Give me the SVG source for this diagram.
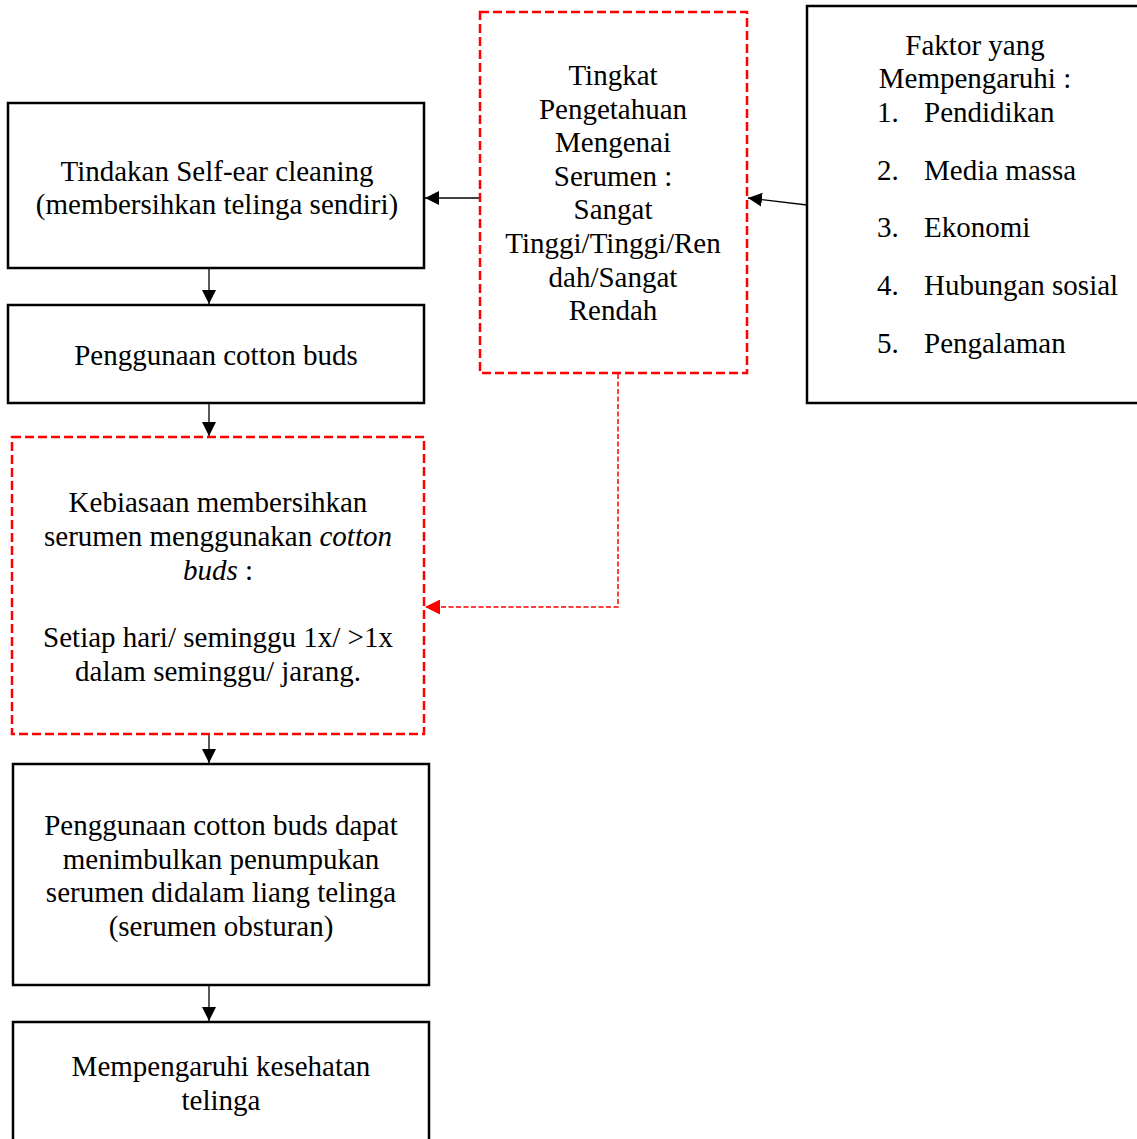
<svg xmlns="http://www.w3.org/2000/svg" width="1137" height="1139" viewBox="0 0 1137 1139">
<style>
.box{fill:#fff;stroke:#000;stroke-width:2.5}
.dbox{fill:#fff;stroke:#ff0000;stroke-width:2.5;stroke-dasharray:9 4}
.t{font-family:"Liberation Serif","Times New Roman",serif;font-size:29px;fill:#000}
.c{text-anchor:middle}
.con{stroke:#000;stroke-width:1.3;fill:none}
.rcon{stroke:#ff0000;stroke-width:1.5;fill:none;stroke-dasharray:5 2.5}
</style>
<defs>
<marker id="ab" viewBox="0 0 14 14" refX="14" refY="7" markerWidth="14" markerHeight="14" markerUnits="userSpaceOnUse" orient="auto"><path d="M0,0 L14,7 L0,14 z" fill="#000"/></marker>
<marker id="ar" viewBox="0 0 15 15" refX="15" refY="7.5" markerWidth="15" markerHeight="15" markerUnits="userSpaceOnUse" orient="auto"><path d="M0,0 L15,7.5 L0,15 z" fill="#ff0000"/></marker>
</defs>
<rect width="1137" height="1139" fill="#fff"/>

<g id="connectors">
<line class="con" x1="209" y1="268" x2="209" y2="304" marker-end="url(#ab)"/>
<line class="con" x1="209" y1="403" x2="209" y2="436" marker-end="url(#ab)"/>
<line class="con" x1="209" y1="734" x2="209" y2="763" marker-end="url(#ab)"/>
<line class="con" x1="209" y1="985" x2="209" y2="1021" marker-end="url(#ab)"/>
<line class="con" x1="480" y1="198" x2="425" y2="198" marker-end="url(#ab)"/>
<line class="con" x1="807" y1="205" x2="748" y2="198" marker-end="url(#ab)"/>
<polyline class="rcon" points="618,374 618,607 425,607" marker-end="url(#ar)"/>
</g>

<g id="n-tindakan">
<rect class="box" x="8" y="103" width="416" height="165"/>
<text class="t c" x="217" y="181">Tindakan Self-ear cleaning</text>
<text class="t c" x="217" y="214">(membersihkan telinga sendiri)</text>
</g>

<g id="n-penggunaan">
<rect class="box" x="8" y="305" width="416" height="98"/>
<text class="t c" x="216" y="365">Penggunaan cotton buds</text>
</g>

<g id="n-kebiasaan">
<rect class="dbox" x="12" y="437" width="412" height="297"/>
<text class="t c" x="218" y="512">Kebiasaan membersihkan</text>
<text class="t c" x="218" y="546">serumen menggunakan <tspan font-style="italic">cotton</tspan></text>
<text class="t c" x="218" y="580"><tspan font-style="italic">buds</tspan> :</text>
<text class="t c" x="218" y="647">Setiap hari/ seminggu 1x/ &gt;1x</text>
<text class="t c" x="218" y="681">dalam seminggu/ jarang.</text>
</g>

<g id="n-akibat">
<rect class="box" x="13" y="764" width="416" height="221"/>
<text class="t c" x="221" y="835">Penggunaan cotton buds dapat</text>
<text class="t c" x="221" y="869">menimbulkan penumpukan</text>
<text class="t c" x="221" y="902">serumen didalam liang telinga</text>
<text class="t c" x="221" y="936">(serumen obsturan)</text>
</g>

<g id="n-kesehatan">
<rect class="box" x="13" y="1022" width="416" height="130"/>
<text class="t c" x="221" y="1076">Mempengaruhi kesehatan</text>
<text class="t c" x="221" y="1110">telinga</text>
</g>

<g id="n-pengetahuan">
<rect class="dbox" x="480" y="12" width="267" height="361"/>
<text class="t c" x="613" y="85">Tingkat</text>
<text class="t c" x="613" y="118.6">Pengetahuan</text>
<text class="t c" x="613" y="152.2">Mengenai</text>
<text class="t c" x="613" y="185.8">Serumen :</text>
<text class="t c" x="613" y="219.4">Sangat</text>
<text class="t c" x="613" y="253">Tinggi/Tinggi/Ren</text>
<text class="t c" x="613" y="286.6">dah/Sangat</text>
<text class="t c" x="613" y="320.2">Rendah</text>
</g>

<g id="n-faktor">
<rect class="box" x="807" y="6" width="340" height="397"/>
<text class="t c" x="975" y="55">Faktor yang</text>
<text class="t c" x="975" y="88">Mempengaruhi :</text>
<text class="t" x="877" y="122">1.</text><text class="t" x="924" y="122">Pendidikan</text>
<text class="t" x="877" y="180">2.</text><text class="t" x="924" y="180">Media massa</text>
<text class="t" x="877" y="237">3.</text><text class="t" x="924" y="237">Ekonomi</text>
<text class="t" x="877" y="295">4.</text><text class="t" x="924" y="295">Hubungan sosial</text>
<text class="t" x="877" y="353">5.</text><text class="t" x="924" y="353">Pengalaman</text>
</g>
</svg>
